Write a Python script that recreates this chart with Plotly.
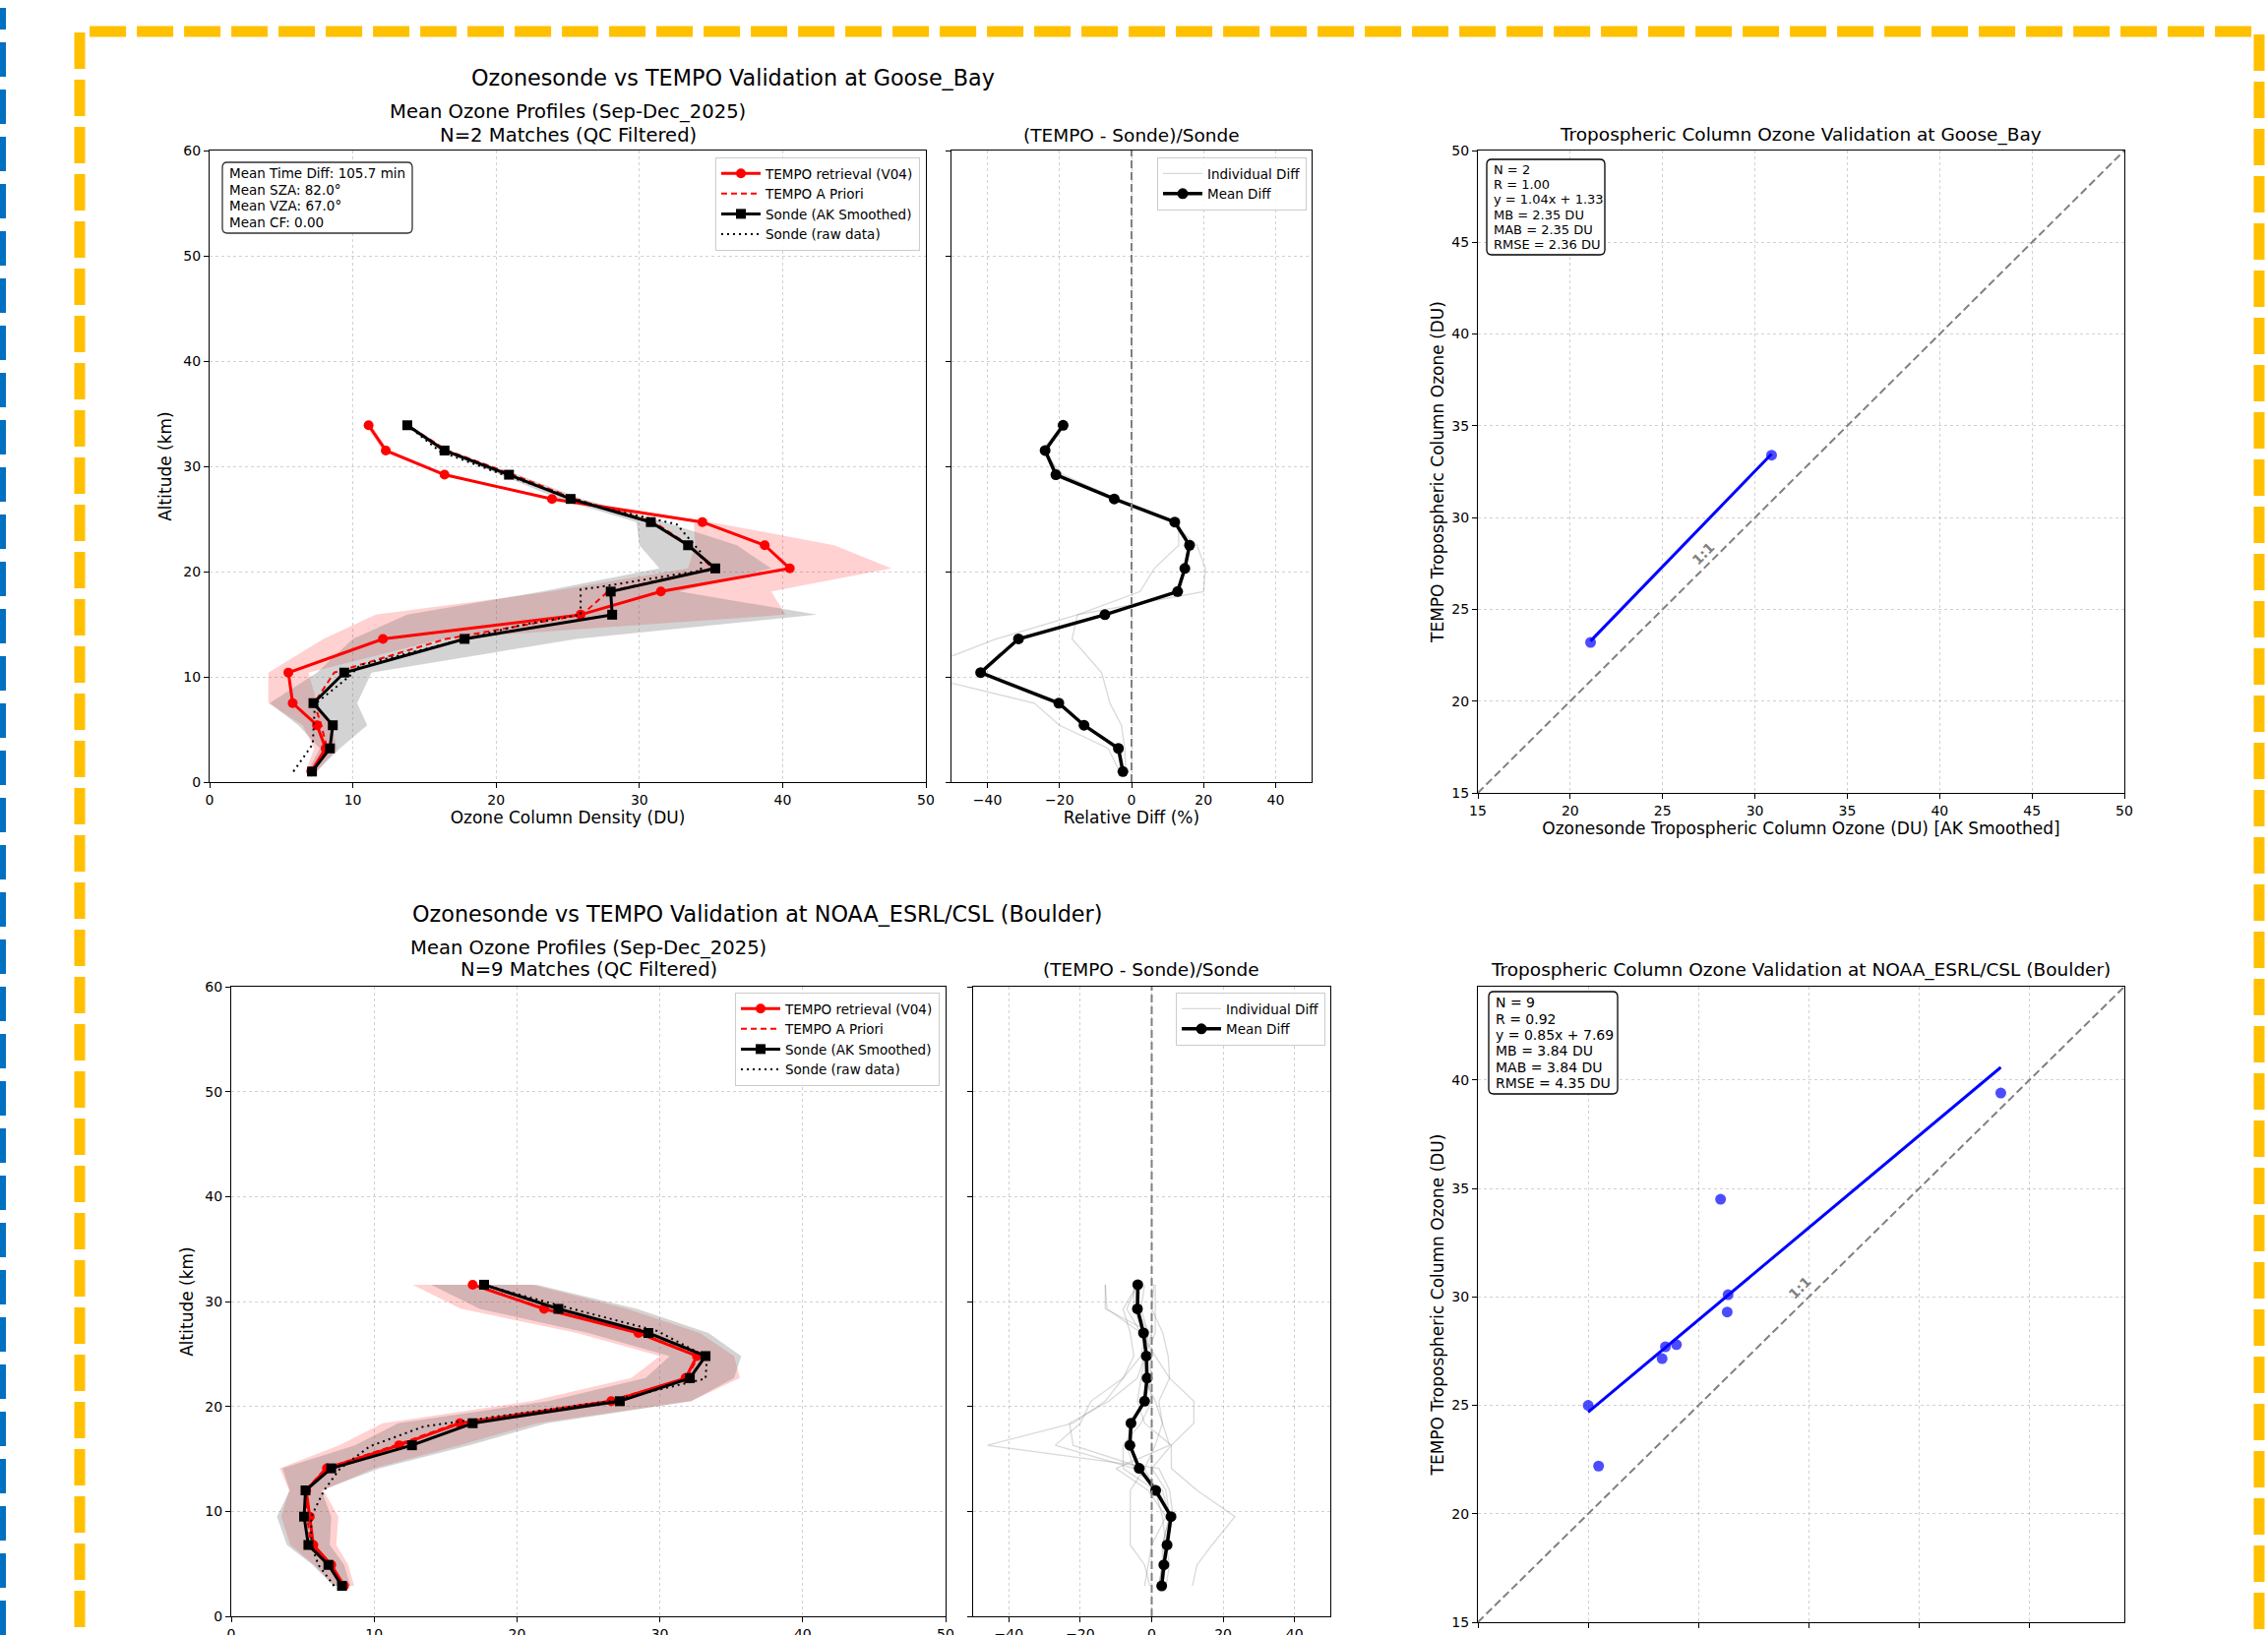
import plotly.graph_objects as go

W, H = 2305, 1662
FONT = "DejaVu Sans"

# ---------------- Goose Bay ----------------
gb_alt = [1.0, 3.2, 5.4, 7.5, 10.4, 13.6, 15.9, 18.1, 20.3, 22.5, 24.7, 26.9, 29.2, 31.5, 33.9]
gb_tempo = [7.1, 8.1, 7.5, 5.8, 5.5, 12.1, 25.9, 31.5, 40.5, 38.75, 34.4, 23.9, 16.4, 12.3, 11.1]
gb_tempo_std = [0.4, 0.8, 1.0, 1.7, 1.4, 4.15, 14.3, 7.7, 7.1, 4.85, 0.6, 0.3, 0.3, 0.2, 0.2]
gb_apriori = [7.2, 8.2, 7.8, 7.3, 8.7, 16.5, 26.0, 27.8, 35.1, 33.5, 31.0, 25.5, 21.2, 16.6, 13.8]
gb_sonde = [7.15, 8.4, 8.6, 7.25, 9.4, 17.8, 28.1, 28.0, 35.3, 33.4, 30.8, 25.2, 20.9, 16.4, 13.8]
gb_sonde_std = [0.3, 0.7, 2.4, 3.05, 1.9, 7.8, 14.3, 4.8, 3.9, 3.4, 1.0, 0.8, 0.6, 0.3, 0.2]
gb_raw_alt = [1.0, 3.6, 7.4, 10.1, 11.1, 13.2, 14.9, 15.9, 18.3, 18.6, 20.1, 21.8, 24.5, 26.1, 29.3, 31.4, 33.9]
gb_raw = [5.85, 7.2, 7.35, 9.8, 10.5, 16.8, 21.7, 25.9, 25.9, 27.5, 34.3, 34.3, 32.6, 27.3, 20.3, 16.1, 13.8]
gb_mean_diff = [-2.4, -3.65, -13.2, -20.2, -41.9, -31.4, -7.4, 12.8, 14.8, 16.1, 12.0, -4.8, -21.0, -24.0, -19.0]
gb_indiv_diff = [
    [-3.3, -6.5, -20.0, -27.0, -62.0, -37.5, -15.0, 2.4, 6.3, 13.1, 13.0, -4.0, -19.0, -25.0, -19.0],
    [-1.6, -1.9, -2.8, -6.0, -8.3, -16.5, -15.0, 20.0, 20.5, 18.2, 11.0, -5.0, -20.0, -24.0, -19.0],
]
gb_sonde_tco = [21.1, 30.9]
gb_tempo_tco = [23.2, 33.4]
gb_slope, gb_icpt = 1.04, 1.33
gb_stats = ["N = 2", "R = 1.00", "y = 1.04x + 1.33", "MB = 2.35 DU", "MAB = 2.35 DU", "RMSE = 2.36 DU"]
gb_info = ["Mean Time Diff: 105.7 min", "Mean SZA: 82.0°", "Mean VZA: 67.0°", "Mean CF: 0.00"]
gb_lim = [15, 50]
gb_label_xy = [27.2, 28.0]
gb_titles = ["Ozonesonde vs TEMPO Validation at Goose_Bay",
             "Mean Ozone Profiles (Sep-Dec_2025)", "N=2 Matches (QC Filtered)",
             "(TEMPO - Sonde)/Sonde",
             "Tropospheric Column Ozone Validation at Goose_Bay"]

# ---------------- Boulder ----------------
bo_alt = [2.9, 4.9, 6.8, 9.5, 12.0, 14.1, 16.3, 18.4, 20.5, 22.7, 24.8, 27.0, 29.3, 31.6]
bo_tempo = [7.9, 7.0, 5.75, 5.5, 5.25, 6.7, 11.75, 16.0, 26.6, 31.8, 32.6, 28.5, 21.9, 16.9]
bo_tempo_std = [0.7, 1.2, 1.6, 2.0, 1.2, 3.3, 4.2, 5.4, 5.6, 3.8, 2.6, 4.3, 5.8, 4.2]
bo_apriori = [7.8, 6.9, 5.6, 5.3, 5.2, 6.6, 11.5, 15.8, 26.4, 31.9, 32.7, 28.6, 22.0, 17.0]
bo_sonde = [7.75, 6.8, 5.4, 5.1, 5.2, 7.0, 12.65, 16.9, 27.2, 32.1, 33.2, 29.2, 22.9, 17.7]
bo_sonde_std = [0.6, 1.1, 1.5, 1.9, 1.1, 3.4, 4.0, 5.2, 5.0, 3.1, 2.5, 4.2, 5.5, 3.7]
bo_raw_alt = [2.9, 4.9, 6.8, 9.5, 12.0, 14.05, 16.2, 18.1, 20.5, 22.65, 24.7, 27.2, 29.5, 31.6]
bo_raw = [7.2, 6.1, 5.6, 5.6, 6.5, 7.6, 9.7, 13.5, 26.5, 33.2, 33.3, 29.8, 23.3, 17.6]
bo_mean_diff = [2.8, 3.4, 4.3, 5.4, 1.1, -3.5, -6.1, -5.8, -2.0, -1.3, -1.5, -2.3, -4.0, -3.9]
bo_indiv_diff = [
    [11.4, 12.7, 16.9, 23.3, 12.7, 5.5, 5.5, -2.0, -4.0, -3.0, -2.0, -1.0, -3.0, -2.0],
    [2.0, 3.0, 4.0, 6.0, 5.0, 2.0, -46.0, -22.0, -13.0, -8.0, -5.0, -6.0, -8.0, -4.0],
    [3.0, 4.0, 4.0, 5.0, 3.0, -5.0, -27.0, -20.0, -17.0, -8.0, -3.0, -2.0, -5.0, -5.0],
    [4.0, 5.0, 4.0, 3.0, 1.0, -2.0, -22.0, -23.0, -12.0, -4.0, -2.0, 0.0, -13.0, -13.0],
    [2.0, 3.0, 3.0, 5.0, 4.0, 0.0, 5.5, 11.8, 11.8, 5.0, 1.0, -3.0, -12.5, -13.0],
    [-2.0, -1.0, 0.0, 4.0, -1.0, -10.0, 5.0, 3.0, 2.0, 5.0, 4.6, 3.1, 0.0, 0.6],
    [3.0, 4.0, 3.0, 5.0, 2.0, -5.0, -7.0, -6.0, -2.0, 0.0, -1.0, -3.0, -7.0, -4.0],
    [2.0, 3.0, 4.0, 5.0, 1.0, -8.0, -8.0, -3.0, 0.0, -1.0, -2.0, -1.0, -4.0, -3.0],
    [-0.5, -2.0, -6.0, -6.0, -6.0, -2.0, 1.0, 3.0, 1.0, -2.0, -2.0, 1.0, 1.0, 1.0],
]
bo_sonde_tco = [20.0, 20.47, 23.35, 23.5, 24.0, 26.0, 26.34, 26.3, 38.7]
bo_tempo_tco = [25.0, 22.2, 27.15, 27.7, 27.8, 34.5, 30.1, 29.3, 39.4]
bo_slope, bo_icpt = 0.85, 7.69
bo_stats = ["N = 9", "R = 0.92", "y = 0.85x + 7.69", "MB = 3.84 DU", "MAB = 3.84 DU", "RMSE = 4.35 DU"]
bo_lim = [15, 44.3]
bo_label_xy = [29.6, 30.4]
bo_titles = ["Ozonesonde vs TEMPO Validation at NOAA_ESRL/CSL (Boulder)",
             "Mean Ozone Profiles (Sep-Dec_2025)", "N=9 Matches (QC Filtered)",
             "(TEMPO - Sonde)/Sonde",
             "Tropospheric Column Ozone Validation at NOAA_ESRL/CSL (Boulder)"]

profile_x_ticks = [0, 10, 20, 30, 40, 50]
alt_ticks = [0, 10, 20, 30, 40, 50, 60]
diff_ticks = [-40, -20, 0, 20, 40]

fig = go.Figure()


def px_x(a, b):
    return [a / W, b / W]


def px_y(top, bottom):
    return [1 - bottom / H, 1 - top / H]


def round_box(x0, y0, x1, y1, r, color):
    """Rounded rectangle, pixel coords (top-left origin) -> paper path."""
    X = lambda v: v / W
    Y = lambda v: 1 - v / H
    p = (f"M {X(x0 + r)},{Y(y0)} L {X(x1 - r)},{Y(y0)} Q {X(x1)},{Y(y0)} {X(x1)},{Y(y0 + r)} "
         f"L {X(x1)},{Y(y1 - r)} Q {X(x1)},{Y(y1)} {X(x1 - r)},{Y(y1)} "
         f"L {X(x0 + r)},{Y(y1)} Q {X(x0)},{Y(y1)} {X(x0)},{Y(y1 - r)} "
         f"L {X(x0)},{Y(y0 + r)} Q {X(x0)},{Y(y0)} {X(x0 + r)},{Y(y0)} Z")
    fig.add_shape(type="path", xref="paper", yref="paper", path=p,
                  line=dict(color=color, width=1.3), fillcolor="white", layer="above")


def text_box(left, top, width, height, lines, size, color="black"):
    round_box(left, top, left + width, top + height, 5, color)
    step = (height - 6) / len(lines)
    for i, t in enumerate(lines):
        fig.add_annotation(xref="paper", yref="paper", x=(left + 5) / W,
                           y=1 - (top + 3 + (i + 0.5) * step) / H, text=t,
                           xanchor="left", yanchor="middle", showarrow=False,
                           font=dict(size=size, family=FONT, color="black"))


base_axis = dict(showline=True, linecolor="black", linewidth=1.3, mirror=True,
                 ticks="outside", ticklen=5, tickcolor="black", tickwidth=1.2,
                 showgrid=True, gridcolor="rgba(0,0,0,0.18)", griddash="dot", gridwidth=1,
                 zeroline=False, automargin=False,
                 tickfont=dict(size=14, family=FONT, color="black"),
                 title_font=dict(size=17, family=FONT, color="black"))


def add_station(row, alt, tempo, tempo_std, apriori, sonde, sonde_std, raw_alt, raw,
                mean_diff, indiv, sonde_tco, tempo_tco, slope, icpt, lim, label_xy,
                dom_prof, dom_diff, dom_sc, ydom, ydom_sc, legs, show_xtitles):
    k = 3 * row
    xa_p, ya_p = f"x{k + 1 if k else ''}", f"y{k + 1 if k else ''}"
    xa_d, ya_d = f"x{k + 2}", f"y{k + 2}"
    xa_s, ya_s = f"x{k + 3}", f"y{k + 3}"
    lp, ld = legs
    # bands
    t_lo = [m - s for m, s in zip(tempo, tempo_std)]
    t_hi = [m + s for m, s in zip(tempo, tempo_std)]
    s_lo = [m - s for m, s in zip(sonde, sonde_std)]
    s_hi = [m + s for m, s in zip(sonde, sonde_std)]
    fig.add_trace(go.Scatter(x=t_lo + t_hi[::-1], y=alt + alt[::-1], fill="toself",
                             fillcolor="rgba(255,0,0,0.18)", line=dict(width=0),
                             mode="lines", showlegend=False, hoverinfo="skip",
                             xaxis=xa_p, yaxis=ya_p))
    fig.add_trace(go.Scatter(x=s_lo + s_hi[::-1], y=alt + alt[::-1], fill="toself",
                             fillcolor="rgba(110,110,110,0.3)", line=dict(width=0),
                             mode="lines", showlegend=False, hoverinfo="skip",
                             xaxis=xa_p, yaxis=ya_p))
    fig.add_trace(go.Scatter(x=tempo, y=alt, mode="lines+markers", name="TEMPO retrieval (V04)",
                             line=dict(color="#ff0000", width=3),
                             marker=dict(symbol="circle", size=10, color="#ff0000"),
                             legend=lp, xaxis=xa_p, yaxis=ya_p))
    fig.add_trace(go.Scatter(x=apriori, y=alt, mode="lines", name="TEMPO A Priori",
                             line=dict(color="#ff0000", width=2, dash="6px,4px"),
                             legend=lp, xaxis=xa_p, yaxis=ya_p))
    fig.add_trace(go.Scatter(x=sonde, y=alt, mode="lines+markers", name="Sonde (AK Smoothed)",
                             line=dict(color="black", width=3),
                             marker=dict(symbol="square", size=10, color="black"),
                             legend=lp, xaxis=xa_p, yaxis=ya_p))
    fig.add_trace(go.Scatter(x=raw, y=raw_alt, mode="lines", name="Sonde (raw data)",
                             line=dict(color="black", width=2, dash="2px,4px"),
                             legend=lp, xaxis=xa_p, yaxis=ya_p))
    # diff panel
    for i, d in enumerate(indiv):
        fig.add_trace(go.Scatter(x=d, y=alt, mode="lines", name="Individual Diff",
                                 line=dict(color="rgba(128,128,128,0.3)", width=1.3),
                                 showlegend=(i == 0), legend=ld, xaxis=xa_d, yaxis=ya_d))
    fig.add_trace(go.Scatter(x=mean_diff, y=alt, mode="lines+markers", name="Mean Diff",
                             line=dict(color="black", width=3.5),
                             marker=dict(symbol="circle", size=11, color="black"),
                             legend=ld, xaxis=xa_d, yaxis=ya_d))
    fig.add_shape(type="line", xref=xa_d, yref=f"{ya_d} domain", x0=0, x1=0, y0=0, y1=1,
                  line=dict(color="gray", width=2, dash="8px,4px"))
    # scatter panel
    fig.add_trace(go.Scatter(x=lim, y=lim, mode="lines", showlegend=False,
                             line=dict(color="gray", width=2, dash="8px,4px"),
                             xaxis=xa_s, yaxis=ya_s))
    xmin, xmax = min(sonde_tco), max(sonde_tco)
    fig.add_trace(go.Scatter(x=[xmin, xmax], y=[slope * xmin + icpt, slope * xmax + icpt],
                             mode="lines", showlegend=False,
                             line=dict(color="#0000ff", width=3), xaxis=xa_s, yaxis=ya_s))
    fig.add_trace(go.Scatter(x=sonde_tco, y=tempo_tco, mode="markers", showlegend=False,
                             marker=dict(size=11, color="rgba(0,0,255,0.7)"),
                             xaxis=xa_s, yaxis=ya_s))
    fig.add_annotation(xref=xa_s, yref=ya_s, x=label_xy[0], y=label_xy[1], text="<b>1:1</b>",
                       textangle=-45, showarrow=False,
                       font=dict(size=14, color="gray", family=FONT))

    def xt(t, s):
        return dict(text=t, standoff=s) if show_xtitles else dict(text="")

    sfx = lambda n: "" if n == 1 else str(n)
    fig.update_layout(**{
        f"xaxis{sfx(k + 1)}": dict(base_axis, domain=dom_prof, range=[0, 50], tickvals=profile_x_ticks,
                                   title=xt("Ozone Column Density (DU)", 5), anchor=ya_p),
        f"yaxis{sfx(k + 1)}": dict(base_axis, domain=ydom, range=[0, 60], tickvals=alt_ticks,
                                   title=dict(text="Altitude (km)", standoff=7), anchor=xa_p),
        f"xaxis{k + 2}": dict(base_axis, domain=dom_diff, range=[-50, 50], tickvals=diff_ticks,
                              title=xt("Relative Diff (%)", 5), anchor=ya_d),
        f"yaxis{k + 2}": dict(base_axis, domain=ydom, range=[0, 60], tickvals=alt_ticks,
                              showticklabels=False, anchor=xa_d),
        f"xaxis{k + 3}": dict(base_axis, domain=dom_sc, range=lim, dtick=5, tick0=15,
                              title=xt("Ozonesonde Tropospheric Column Ozone (DU) [AK Smoothed]", 4),
                              anchor=ya_s),
        f"yaxis{k + 3}": dict(base_axis, domain=ydom_sc, range=lim, dtick=5, tick0=15,
                              title=dict(text="TEMPO Tropospheric Column Ozone (DU)", standoff=3),
                              anchor=xa_s),
    })


add_station(0, gb_alt, gb_tempo, gb_tempo_std, gb_apriori, gb_sonde, gb_sonde_std, gb_raw_alt, gb_raw,
            gb_mean_diff, gb_indiv_diff, gb_sonde_tco, gb_tempo_tco, gb_slope, gb_icpt,
            gb_lim, gb_label_xy, px_x(213, 941), px_x(967, 1333), px_x(1502, 2159),
            px_y(153, 795), px_y(153, 806), ("legend", "legend2"), True)
add_station(1, bo_alt, bo_tempo, bo_tempo_std, bo_apriori, bo_sonde, bo_sonde_std, bo_raw_alt, bo_raw,
            bo_mean_diff, bo_indiv_diff, bo_sonde_tco, bo_tempo_tco, bo_slope, bo_icpt,
            bo_lim, bo_label_xy, px_x(235, 961), px_x(989, 1352), px_x(1502, 2159),
            px_y(1003, 1643), px_y(1003, 1649), ("legend3", "legend4"), False)

# text boxes (stats / info)
text_box(226, 165, 193, 72, gb_info, 13.5, "#333333")
text_box(1511, 162, 120, 97, gb_stats, 13)
text_box(1513, 1008, 131, 104, bo_stats, 14)

leg_style = dict(xanchor="right", yanchor="top", bordercolor="#cccccc", borderwidth=1,
                 bgcolor="rgba(255,255,255,0.85)", font=dict(size=13.5, family=FONT, color="black"),
                 tracegroupgap=0, itemwidth=40)
fig.update_layout(
    legend=dict(leg_style, x=935 / W, y=1 - 160 / H),
    legend2=dict(leg_style, x=1328 / W, y=1 - 160 / H),
    legend3=dict(leg_style, x=955 / W, y=1 - 1009 / H),
    legend4=dict(leg_style, x=1347 / W, y=1 - 1009 / H),
)


def title(x, y, text, size):
    fig.add_annotation(xref="paper", yref="paper", x=x / W, y=1 - y / H, text=text,
                       showarrow=False, xanchor="center", yanchor="middle",
                       font=dict(size=size, family=FONT, color="black"))


for t, (cx_sup, y_sup, cx_p, y_p1, y_p2, cx_d, cx_s, y_sub) in (
        (gb_titles, (745, 79, 577, 113, 137, 1150, 1830, 137)),
        (bo_titles, (769, 929, 598, 963, 986, 1170, 1830, 986))):
    title(cx_sup, y_sup, t[0], 22.3)
    title(cx_p, y_p1, t[1], 19.6)
    title(cx_p, y_p2, t[2], 19.6)
    title(cx_d, y_sub, t[3], 18.5)
    title(cx_s, y_sub, t[4], 18.5)

# slide decorations: dashed frames
fig.add_shape(type="rect", xref="paper", yref="paper", x0=81 / W, x1=2296 / W,
              y0=-0.05, y1=1 - 32 / H, line=dict(color="#FFC000", width=11, dash="37px,11px"))
fig.add_shape(type="line", xref="paper", yref="paper", x0=3 / W, x1=3 / W,
              y0=0, y1=1 - 8 / H, line=dict(color="#0070C0", width=6, dash="35px,13px"))

fig.update_layout(width=W, height=H,
                  margin=dict(l=0, r=0, t=0, b=0, pad=0, autoexpand=False),
                  paper_bgcolor="white", plot_bgcolor="white",
                  font=dict(family=FONT, color="black"))
fig.write_html("out.html", config={"responsive": False, "displayModeBar": False},
               post_script="document.body.style.margin='0';document.body.style.overflow='hidden';")
